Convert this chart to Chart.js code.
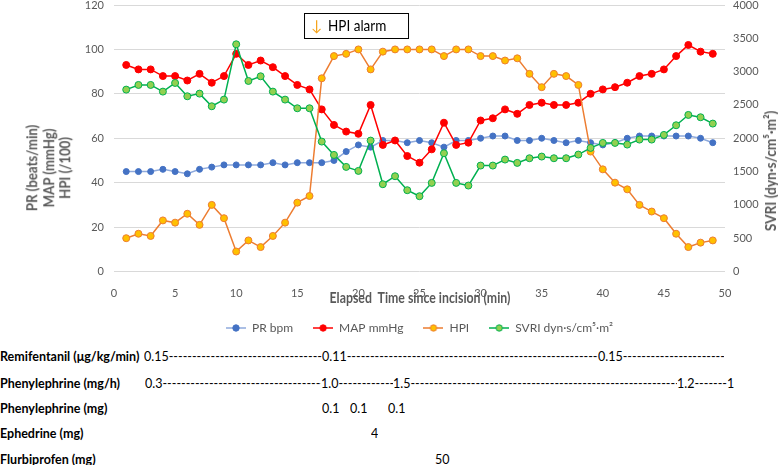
<!DOCTYPE html>
<html>
<head>
<meta charset="utf-8">
<script src="https://cdn.jsdelivr.net/npm/chart.js@4"></script>
<style>
  body { margin: 0; background: #fff; font-family: Lato, sans-serif; }
  #wrap { position: relative; width: 778px; height: 465px; }
  #box { position: absolute; left: 0; top: 0; width: 778px; height: 344px; }
  .lbl { position: absolute; left: 0; font-weight: bold; font-size: 12.5px; line-height: 16px; color: #000; white-space: nowrap; }
  .seg { position: absolute; font-size: 12.5px; line-height: 16px; color: #000; white-space: nowrap; overflow: hidden; }
  .ttl { position: absolute; font-weight: bold; color: #595959; white-space: nowrap; text-align: center; }
</style>
</head>
<body>
<div id="wrap">
  <div id="box"><canvas id="chart"></canvas></div>
</div>
<script>
const minutes = [1,2,3,4,5,6,7,8,9,10,11,12,13,14,15,16,17,18,19,20,21,22,23,24,25,
  26,27,28,29,30,31,32,33,34,35,36,37,38,39,40,41,42,43,44,45,46,47,48,49];

const prBpm = [45,45,45,46,45,44,46,47,48,48, 48,48,49,48,49,49,49,50,54,57,
  56,59,59,58,59,58,56,59,59,60, 61,61,59,59,60,59,58,59,58,57,
  58,60,61,61,61,61,61,60,58];

const mapMmHg = [93,91,91,88,88,86,89,85,88,98, 93,95,92,88,84,82,73,66,63,62,
  75,57,59,52,49,55,67,57,58,68, 69,73,71,75,76,75,75,76,80,82,
  83,85,88,89,91,97,102,99,98];

const hpi = [15,17,16,23,22,26,21,30,24,9, 14,11,16,22,31,34,87,97,98,100,
  91,99,100,100,100,100,97,100,100,97, 97,95,96,89,83,89,88,84,54,46,
  40,37,30,27,24,17,11,13,14];

const svri = [2730,2800,2800,2700,2830,2630,2670,2480,2580,3410, 2860,2930,2700,2580,2450,2450,1950,1750,1570,1510,
  1965,1310,1430,1220,1130,1330,1775,1330,1290,1590, 1590,1680,1630,1700,1725,1700,1700,1755,1855,1930,
  1930,1905,1980,1980,2050,2195,2350,2315,2220];

const seriesNames = ['PR bpm', 'MAP mmHg', 'HPI', 'SVRI dyn\u00b7s/cm\u2075\u00b7m\u00b2'];
const leftTitle = ['PR (beats/min)', 'MAP (mmHg)', 'HPI (/100)'];
const rightTitle = 'SVRI (dyn\u00b7s/cm\u2075\u00b7m\u00b2)';
const xTitle = 'Elapsed  Time since incision (min)';

// drug table below the chart
const drugLabels = ['Remifentanil (\u03bcg/kg/min)', 'Phenylephrine (mg/h)', 'Phenylephrine (mg)', 'Ephedrine (mg)', 'Flurbiprofen (mg)'];
const drugRows = [
  [[144, '0.15', 322], [322, '0.11', 598], [598, '0.15', 724]],
  [[145, '0.3', 321], [321, '1.0', 393], [393, ' 1.5', 677], [677, '1.2', 727], [727, '1']],
  [[322, '0.1'], [350, '0.1'], [388, '0.1']],
  [[371, '4']],
  [[435, '50']]
];
const rowY = [357, 384, 409, 434, 460];

const FONT = "Lato, sans-serif";
const GREY = '#595959';

const wrap = document.getElementById('wrap');
drugLabels.forEach((t, i) => {
  const d = document.createElement('div');
  d.className = 'lbl';
  d.style.top = (rowY[i] - 8) + 'px';
  d.textContent = t;
  wrap.appendChild(d);
  drugRows[i].forEach(s => {
    const e = document.createElement('div');
    e.className = 'seg';
    e.style.left = s[0] + 'px';
    e.style.top = (rowY[i] - 8) + 'px';
    if (s[2]) {
      e.style.width = (s[2] - s[0]) + 'px';
      e.textContent = s[1] + '-'.repeat(200);
    } else {
      e.textContent = s[1];
    }
    wrap.appendChild(e);
  });
});

// axis titles as text boxes (squeezed a little, Lato is wider than the original font)
function title(lines, x, y, size, lh, rot, sx) {
  const d = document.createElement('div');
  d.className = 'ttl';
  d.style.left = x + 'px';
  d.style.top = y + 'px';
  d.style.fontSize = size + 'px';
  d.style.lineHeight = lh + 'px';
  d.style.transform = 'translate(-50%,-50%) rotate(' + rot + 'deg) scaleX(' + sx + ')';
  d.innerHTML = lines.join('<br>');
  wrap.appendChild(d);
}
title(leftTitle, 48, 168, 15, 16.5, -90, 0.88);
title([rightTitle], 770, 171, 15, 16, -90, 0.91);
title([xTitle.replace(/ /g, '\u00a0')], 419.5, 298, 14.5, 16, 0, 0.85);

const lineCol = ['#8faadc', '#ff0000', '#ed7d31', '#00b050'];
const dotFill = ['#4472c4', '#ff0000', '#ffc000', '#92d050'];
const dotEdge = ['#4472c4', '#ff0000', '#ed7d31', '#00b050'];

function legendIcon(i) {
  const c = document.createElement('canvas');
  c.width = 20; c.height = 10;
  const g = c.getContext('2d');
  g.strokeStyle = lineCol[i]; g.lineWidth = 1.5;
  g.beginPath(); g.moveTo(0, 5); g.lineTo(20, 5); g.stroke();
  g.fillStyle = dotFill[i]; g.strokeStyle = dotEdge[i]; g.lineWidth = 1;
  g.beginPath(); g.arc(10, 5, 3.2, 0, Math.PI * 2); g.fill(); g.stroke();
  return c;
}

function mk(i, data, axis, r) {
  return {
    label: seriesNames[i],
    data: minutes.map((m, k) => ({x: m, y: data[k]})),
    yAxisID: axis,
    borderColor: lineCol[i],
    borderWidth: 1.5,
    pointRadius: r,
    pointBackgroundColor: dotFill[i],
    pointBorderColor: dotEdge[i],
    pointBorderWidth: 1,
    tension: 0,
    order: 4 - i
  };
}

const alarmBox = {
  id: 'alarmBox',
  afterDraw(chart) {
    const ctx = chart.ctx;
    const bx = chart.scales.x.getPixelForValue(15.55);
    const by = chart.chartArea.top + 8;
    ctx.save();
    ctx.fillStyle = '#fff';
    ctx.fillRect(bx, by, 104, 25);
    ctx.strokeStyle = '#000';
    ctx.lineWidth = 1;
    ctx.strokeRect(bx + 0.5, by + 0.5, 104, 25);
    ctx.textAlign = 'left';
    ctx.textBaseline = 'middle';
    ctx.font = '15px ' + FONT;
    ctx.fillStyle = '#f5a31a';
    ctx.fillText('\u2193', bx + 7, by + 13);
    ctx.fillStyle = '#000';
    ctx.translate(bx + 24, by + 13);
    ctx.scale(0.9, 1);
    ctx.fillText('HPI alarm', 0, 0);
    ctx.restore();
  }
};

const tickFont = {family: FONT, size: 11};

new Chart(document.getElementById('chart'), {
  type: 'line',
  data: {
    datasets: [
      mk(0, prBpm, 'y', 3),
      mk(1, mapMmHg, 'y', 3.5),
      mk(2, hpi, 'y', 3.5),
      mk(3, svri, 'y1', 3.5)
    ]
  },
  options: {
    responsive: true,
    maintainAspectRatio: false,
    animation: false,
    layout: {padding: 0},
    plugins: {
      tooltip: {enabled: false},
      legend: {
        position: 'bottom',
        fullSize: false,
        labels: {
          usePointStyle: true,
          pointStyleWidth: 20,
          padding: 20,
          color: GREY,
          font: {family: FONT, size: 12},
          generateLabels: () => seriesNames.map((n, i) => ({
            text: n,
            pointStyle: legendIcon(i),
            datasetIndex: i,
            fontColor: GREY,
            lineWidth: 0,
            strokeStyle: 'transparent',
            fillStyle: 'transparent'
          }))
        }
      }
    },
    scales: {
      x: {
        type: 'linear',
        min: 0, max: 50,
        grid: {display: false},
        border: {display: false},
        ticks: {stepSize: 5, color: GREY, padding: 7, font: tickFont},
        afterFit: s => { s.height = 30.5; }
      },
      y: {
        position: 'left',
        min: 0, max: 120,
        grid: {color: '#d9d9d9', drawTicks: false, lineWidth: 1},
        border: {display: false},
        ticks: {stepSize: 20, color: GREY, padding: 10, font: tickFont},
        afterFit: s => { s.width = 114; s.paddingTop = 4; }
      },
      y1: {
        position: 'right',
        min: 0, max: 4000,
        grid: {display: false, drawTicks: false},
        border: {display: false},
        ticks: {stepSize: 500, color: GREY, padding: 8, font: tickFont, callback: v => String(v)},
        afterFit: s => { s.width = 53; s.paddingTop = 4; }
      }
    }
  },
  plugins: [alarmBox]
});
</script>
</body>
</html>
